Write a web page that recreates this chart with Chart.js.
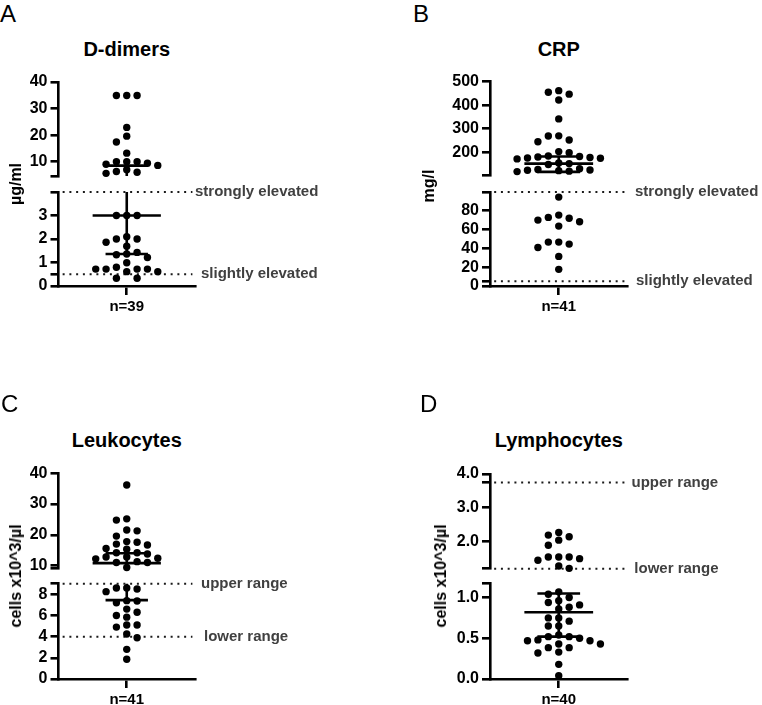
<!DOCTYPE html>
<html><head><meta charset="utf-8">
<script src="https://cdn.jsdelivr.net/npm/chart.js@4.4.0/dist/chart.umd.min.js"></script>
<style>
html,body{margin:0;padding:0;background:#fff;}
#root{position:relative;width:762px;height:705px;overflow:hidden;background:#fff;font-family:"Liberation Sans",Arial,Helvetica,sans-serif;}
#root canvas{position:absolute;}
.t{position:absolute;white-space:nowrap;color:#000;}
</style></head><body><div id="root"></div>
<script>
// ---------------- data ----------------
const panelLetters = ['A', 'B', 'C', 'D'];
const panelTitles = ['D-dimers', 'CRP', 'Leukocytes', 'Lymphocytes'];
const yAxisTitles = ['µg/ml', 'mg/l', 'cells x10^3/µl', 'cells x10^3/µl'];
const nLabels = ['n=39', 'n=41', 'n=41', 'n=40'];

// D-dimers (µg/ml)
const dDimerValues = [34.9, 34.9, 34.9, 22.9, 19.6, 17.4, 13.2, 10.0, 9.4, 9.0, 8.6, 10.0, 10.0, 6.3, 6.0, 5.6, 7.0,
  3.0, 3.0, 3.0, 2.1, 2.0, 2.0, 1.86, 1.69, 1.43, 1.36, 1.33, 1.21, 0.99, 0.8, 0.72, 0.72, 0.72, 0.72, 0.61, 0.61, 0.33, 0.33];
const dDimerSummary = [1.36, 3.0, 8.5];          // lower line, median, upper line
const dDimerUpperRange = [4.6, 40];
const dDimerLowerRange = [0, 4];
const dDimerUpperTicks = [10, 20, 30, 40];
const dDimerLowerTicks = [0, 1, 2, 3];
const dDimerRefValues = [4, 0.5];
const dDimerRefLabels = ['strongly elevated', 'slightly elevated'];

// CRP (mg/l)
const crpValues = [462, 455, 447, 422, 342, 270, 269, 252, 245, 203, 198, 184, 182, 180, 178, 176, 175, 172, 155, 152, 148,
  130, 127, 125, 124, 122, 120, 118,
  94.6, 75.4, 73, 72, 70.1, 68.3, 63.7, 46.7, 46.7, 44.6, 41, 31.5, 17.7];
const crpSummary = [117, 152, 182];
const crpUpperRange = [101, 500];
const crpLowerRange = [0, 100];
const crpUpperTicks = [200, 300, 400, 500];
const crpLowerTicks = [0, 20, 40, 60, 80];
const crpRefValues = [100, 5];
const crpRefLabels = ['strongly elevated', 'slightly elevated'];

// Leukocytes (x10^3/µl)
const leukoValues = [36.2, 25.2, 24.8, 21.6, 21.3, 19.6, 17.8, 17.6, 17.0, 16.7, 15.6, 15.3, 14.2, 14.2, 13.8, 12.8, 12.8, 12.4, 12.2, 11.3, 11.0, 11.0, 9.4,
  8.6, 8.6, 8.5, 8.25, 7.4, 7.36, 7.2, 6.6, 6.3, 6.0, 5.84, 5.1, 5.1, 4.9, 4.25, 3.9, 2.8, 1.87];
const leukoSummary = [7.45, 10.8, 14.0];
const leukoUpperRange = [9.1, 40];
const leukoLowerRange = [0, 9];
const leukoUpperTicks = [10, 20, 30, 40];
const leukoLowerTicks = [0, 2, 4, 6, 8];
const leukoRefValues = [9, 4];
const leukoRefLabels = ['upper range', 'lower range'];

// Lymphocytes (x10^3/µl)
const lymphoValues = [2.26, 2.18, 2.13, 2.03, 1.88, 1.53, 1.53, 1.53, 1.48, 1.43, 1.26, 1.19,
  1.07, 1.04, 1.0, 0.96, 0.94, 0.91, 0.88, 0.86, 0.75, 0.75, 0.71, 0.65, 0.65, 0.54, 0.52, 0.52, 0.5, 0.48, 0.47, 0.47,
  0.43, 0.43, 0.385, 0.385, 0.33, 0.32, 0.18, 0.04];
const lymphoSummary = [0.52, 0.82, 1.05];
const lymphoUpperRange = [1.18, 4];
const lymphoLowerRange = [0, 1.17];
const lymphoUpperTicks = [2, 3, 4];
const lymphoLowerTicks = [0, 0.5, 1];
const lymphoRefValues = [3.75, 1.18];
const lymphoRefLabels = ['upper range', 'lower range'];

// ---------------- layout / style ----------------
const FONT = '"Liberation Sans", Arial, Helvetica, sans-serif';
Chart.defaults.font.family = FONT;
Chart.defaults.font.size = 16;
Chart.defaults.font.weight = 'bold';
Chart.defaults.color = '#000';

const panels = [
  { values: dDimerValues, summary: dDimerSummary, upperRange: dDimerUpperRange, lowerRange: dDimerLowerRange,
    upperTicks: dDimerUpperTicks, lowerTicks: dDimerLowerTicks, refValues: dDimerRefValues, refLabels: dDimerRefLabels, decimals: 0,
    L: { axisX: 58.5, xEnd: 195, canvasRight: 335, upperTop: 82, upperBottom: 176, lowerTop: 192, lowerBottom: 286,
         letter: [0, 2], titleTop: 39, yTitle: [16.1, 184], refDx: [0, 6] } },
  { values: crpValues, summary: crpSummary, upperRange: crpUpperRange, lowerRange: crpLowerRange,
    upperTicks: crpUpperTicks, lowerTicks: crpLowerTicks, refValues: crpRefValues, refLabels: crpRefLabels, decimals: 0,
    L: { axisX: 490, xEnd: 627.5, canvasRight: 762, upperTop: 81.7, upperBottom: 175.6, lowerTop: 192, lowerBottom: 286,
         letter: [413, 2], titleTop: 39, yTitle: [428.8, 186], refDx: [7.5, 8.5] } },
  { values: leukoValues, summary: leukoSummary, upperRange: leukoUpperRange, lowerRange: leukoLowerRange,
    upperTicks: leukoUpperTicks, lowerTicks: leukoLowerTicks, refValues: leukoRefValues, refLabels: leukoRefLabels, decimals: 0,
    L: { axisX: 58.5, xEnd: 195, canvasRight: 335, upperTop: 473.3, upperBottom: 568.4, lowerTop: 583.7, lowerBottom: 679,
         letter: [1, 392], titleTop: 429.5, yTitle: [16.1, 576], refDx: [6, 9] } },
  { values: lymphoValues, summary: lymphoSummary, upperRange: lymphoUpperRange, lowerRange: lymphoLowerRange,
    upperTicks: lymphoUpperTicks, lowerTicks: lymphoLowerTicks, refValues: lymphoRefValues, refLabels: lymphoRefLabels, decimals: 1,
    L: { axisX: 490, xEnd: 627.5, canvasRight: 762, upperTop: 474, upperBottom: 568.7, lowerTop: 583.7, lowerBottom: 679,
         letter: [420, 392], titleTop: 429.5, yTitle: [441.1, 576], refDx: [4, 6.8] } }
];

const root = document.getElementById('root');
const XMIN = -6.6, XMAX = 6.6;
const WIDE = 3.3, NARROW = 2.05;
const LINE_W = 2.6;

const refLabelPlugin = {
  id: 'refLabels',
  afterDatasetsDraw(chart, args, opts) {
    const { ctx, chartArea, scales } = chart;
    ctx.save();
    ctx.font = 'bold 15px ' + FONT;
    ctx.fillStyle = '#404040';
    ctx.textAlign = 'left';
    ctx.textBaseline = 'middle';
    (opts.items || []).forEach(it => {
      ctx.fillText(it.text, chartArea.right + it.dx, scales.y.getPixelForValue(it.value));
    });
    ctx.restore();
  }
};

function swarm(ys, minDist) {
  const order = ys.map((_, i) => i).sort((a, b) => ys[a] - ys[b]);
  const placed = [];
  const cols = new Array(ys.length).fill(0);
  let side = -1;
  for (const i of order) {
    let chosen = null;
    for (let k = 0; chosen === null && k < 40; k++) {
      const cands = k === 0 ? [0] : [k * side, -k * side];
      for (const c of cands) {
        if (placed.every(p => p.c !== c || Math.abs(p.y - ys[i]) >= minDist)) { chosen = c; break; }
      }
    }
    if (chosen !== 0) side = chosen > 0 ? -1 : 1;
    placed.push({ c: chosen, y: ys[i] });
    cols[i] = chosen;
  }
  return cols;
}

function makeSegment(p, pi, isLower) {
  const L = p.L;
  const range = isLower ? p.lowerRange : p.upperRange;
  const labeled = isLower ? p.lowerTicks : p.upperTicks;
  const top = isLower ? L.lowerTop : L.upperTop;
  const bottom = isLower ? L.lowerBottom : L.upperBottom;
  const YW = 62, PAD = 14, XH = isLower ? 34 : 0;
  const cLeft = Math.floor(L.axisX - YW);
  const yw = L.axisX - cLeft;
  const cWidth = L.canvasRight - cLeft;
  const padR = L.canvasRight - L.xEnd;
  const cTop = Math.floor(top) - PAD;
  const padT = top - cTop;
  const cHeight = Math.ceil(bottom + XH + PAD) - cTop;
  const padB = cHeight - (bottom - cTop) - XH;

  const canvas = document.createElement('canvas');
  canvas.width = cWidth; canvas.height = cHeight;
  canvas.style.left = cLeft + 'px'; canvas.style.top = cTop + 'px';
  canvas.style.width = cWidth + 'px'; canvas.style.height = cHeight + 'px';
  root.appendChild(canvas);

  const inRange = v => v >= range[0] && v <= range[1];
  const vals = p.values.filter(inRange);
  const refs = p.refValues.map((v, i) => ({ value: v, text: p.refLabels[i], dx: L.refDx[i] })).filter(r => inRange(r.value));
  const tickVals = Array.from(new Set([range[0], range[1], ...labeled, ...refs.map(r => r.value)])).sort((a, b) => a - b);
  const [lo, med, hi] = p.summary;

  const lineDs = (pts) => ({ type: 'line', data: pts, borderColor: '#000', borderWidth: LINE_W, pointRadius: 0,
    clip: 0, fill: false, tension: 0, order: 1 });

  const datasets = [
    { type: 'scatter', data: vals.map(v => ({ x: 0, y: v })), backgroundColor: '#000', borderColor: '#000',
      borderWidth: 0, pointRadius: 3.7, pointHoverRadius: 3.7, clip: false, order: 0 },
    lineDs([{ x: -WIDE, y: med }, { x: WIDE, y: med }]),
    lineDs([{ x: -NARROW, y: lo }, { x: NARROW, y: lo }]),
    lineDs([{ x: -NARROW, y: hi }, { x: NARROW, y: hi }]),
    lineDs([{ x: 0, y: lo }, { x: 0, y: hi }]),
    ...refs.map(r => ({ type: 'line', data: [{ x: XMIN + 0.4, y: r.value }, { x: XMAX - 0.25, y: r.value }],
      borderColor: '#1a1a1a', borderWidth: 2, borderDash: [2, 4.75], pointRadius: 0, clip: 3, order: 2 }))
  ];

  const chart = new Chart(canvas, {
    type: 'scatter',
    data: { datasets },
    options: {
      responsive: false, animation: false, devicePixelRatio: 1, events: [],
      layout: { padding: { left: 0, right: padR, top: padT, bottom: padB } },
      plugins: { legend: { display: false }, tooltip: { enabled: false }, refLabels: { items: refs } },
      scales: {
        x: {
          type: 'linear', min: XMIN, max: XMAX, display: isLower, bounds: 'data',
          afterBuildTicks: s => { s.ticks = [{ value: 0 }]; },
          afterFit: s => { if (isLower) s.height = XH; s.paddingLeft = 0; s.paddingRight = 0; },
          ticks: { autoSkip: false, padding: 3, maxRotation: 0, minRotation: 0, color: '#000',
            font: { size: 15, weight: 'bold' }, callback: () => nLabels[pi] },
          grid: { drawOnChartArea: false, drawTicks: true, tickLength: 9, lineWidth: LINE_W, color: '#000' },
          border: { display: true, color: '#000', width: LINE_W }
        },
        y: {
          type: 'linear', min: range[0], max: range[1], bounds: 'data',
          afterBuildTicks: s => { s.ticks = tickVals.map(v => ({ value: v })); },
          afterFit: s => { s.width = yw; s.paddingTop = 0; s.paddingBottom = 0; },
          ticks: { autoSkip: false, padding: 3, color: '#000', font: { size: 16, weight: 'bold' },
            callback: v => labeled.includes(v) ? Number(v).toFixed(p.decimals) : '' },
          grid: { drawOnChartArea: false, drawTicks: true, tickLength: 8, lineWidth: LINE_W, color: '#000' },
          border: { display: true, color: '#000', width: LINE_W }
        }
      }
    },
    plugins: [refLabelPlugin]
  });

  const ys = vals.map(v => chart.scales.y.getPixelForValue(v));
  const cols = swarm(ys, 7.5);
  chart.data.datasets[0].data = vals.map((v, i) => ({ x: cols[i], y: v }));
  chart.update('none');
}

function addText(txt, css) {
  const d = document.createElement('div');
  d.className = 't';
  d.textContent = txt;
  Object.assign(d.style, css);
  root.appendChild(d);
}

panels.forEach((p, pi) => {
  const L = p.L;
  makeSegment(p, pi, false);
  makeSegment(p, pi, true);
  addText(panelLetters[pi], { left: L.letter[0] + 'px', top: L.letter[1] + 'px', fontSize: '24px', lineHeight: '24px', fontWeight: 'normal' });
  addText(panelTitles[pi], { left: ((L.axisX + L.xEnd) / 2) + 'px', top: L.titleTop + 'px', fontSize: '20px', lineHeight: '20px',
    fontWeight: 'bold', transform: 'translateX(-50%)' });
  addText(yAxisTitles[pi], { left: L.yTitle[0] + 'px', top: L.yTitle[1] + 'px', fontSize: '16px', lineHeight: '16px',
    fontWeight: 'bold', transform: 'translate(-50%,-50%) rotate(-90deg)' });
});
</script>
</body></html>
